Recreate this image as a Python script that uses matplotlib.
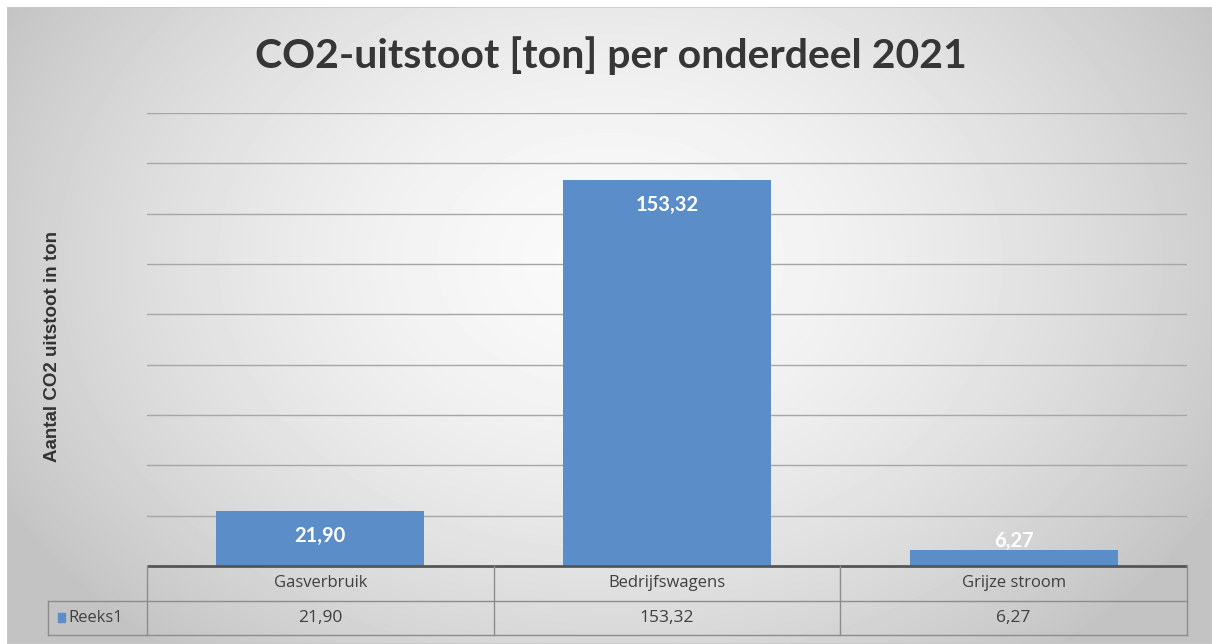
import numpy as np
import matplotlib.pyplot as plt
from matplotlib.patches import Rectangle

# data
categories = ["Gasverbruik", "Bedrijfswagens", "Grijze stroom"]
values = [21.90, 153.32, 6.27]
value_labels = ["21,90", "153,32", "6,27"]
series_name = "Reeks1"
title = "CO2-uitstoot [ton] per onderdeel 2021"
ylabel = "Aantal CO2 uitstoot in ton"

W, H = 1212, 644
bar_color = "#5b8dc9"
text_color = "#404040"
line_color = "#8c8c8c"

fig = plt.figure(figsize=(W / 100, H / 100), dpi=100)
fig.patch.set_facecolor("white")


def fx(px):
    return px / W


def fy(py):
    return 1 - py / H


# achtergrond met radiale gradient (Excel stijl)
bg = fig.add_axes([fx(7), 0, fx(W - 7), fy(7)])
yy, xx = np.mgrid[7:H, 7:W]
r = np.sqrt(((xx - 610) / 640.0) ** 2 + ((yy - 260) / 470.0) ** 2)
gray = np.clip(250 - 48 * r ** 1.6, 195, 250) / 255.0
bg.imshow(gray, cmap="gray", vmin=0, vmax=1, aspect="auto",
          extent=[0, 1, 0, 1], interpolation="bilinear")
bg.set_axis_off()
bg.add_patch(Rectangle((0, 0), 1, 1, transform=bg.transAxes, fill=False,
                       edgecolor="#c8c8c8", lw=1.2))

# plot gebied
x_left, x_right = 147, 1187
y_top, y_base = 113, 566
ax = fig.add_axes([fx(x_left), fy(y_base), fx(x_right - x_left),
                   (y_base - y_top) / H])
ax.set_facecolor("none")
x = np.arange(len(categories))
ax.bar(x, values, width=0.6, color=bar_color, zorder=3)
ax.set_xlim(-0.5, len(categories) - 0.5)
ax.set_ylim(0, 180)
for gy in range(20, 181, 20):
    ax.axhline(gy, color="#a6a6a6", lw=1.0, zorder=1)
for s in ax.spines.values():
    s.set_visible(False)
ax.set_xticks([])
ax.set_yticks([])

# labels in de balken
for xi, v, lab in zip(x, values, value_labels):
    ax.annotate(lab, (xi, max(v, 20)), xytext=(0, -18),
                textcoords="offset points", ha="center", va="center",
                color="white", fontsize=14.5, fontweight="bold",
                family="Lato", zorder=4)

# titel en as-label
fig.text(fx(611), fy(56), title, ha="center", va="center",
         fontsize=29.5, fontweight="bold", family="Lato", color="#363636")
fig.text(fx(53), fy(346), ylabel, ha="center", va="center", rotation=90,
         fontsize=13.5, fontweight="bold", family="Liberation Sans",
         color="#333333")

# gegevenstabel onder de grafiek
cat_w = (x_right - x_left) / len(categories)
leg_left = 48
row1, row2, row3 = 566, 600, 635
tab = fig.add_axes([fx(leg_left), fy(row3), fx(x_right - leg_left),
                    (row3 - row1) / H])
tab.set_facecolor("none")
xmin_tab = -0.5 - (x_left - leg_left) / cat_w
tab.set_xlim(xmin_tab, len(categories) - 0.5)
tab.set_ylim(0, 2)
tab.set_axis_off()
tab.plot([-0.5, len(categories) - 0.5], [2, 2], color="#555555", lw=2.0,
         solid_capstyle="butt", clip_on=False)
tab.plot([xmin_tab, len(categories) - 0.5], [1, 1], color=line_color, lw=1.0)
tab.plot([xmin_tab, len(categories) - 0.5], [0, 0], color=line_color, lw=1.0,
         clip_on=False)
tab.plot([xmin_tab, xmin_tab], [0, 1], color=line_color, lw=1.0, clip_on=False)
for b in np.arange(len(categories) + 1) - 0.5:
    tab.plot([b, b], [0, 2], color=line_color, lw=1.0, clip_on=False)
for xi, cat, lab in zip(x, categories, value_labels):
    tab.text(xi, 1.5, cat, ha="center", va="center", fontsize=12,
             family="Open Sans", color=text_color)
    tab.text(xi, 0.5, lab, ha="center", va="center", fontsize=12.5,
             family="Open Sans", color=text_color)
key_x = xmin_tab + 0.03
tab.add_patch(Rectangle((key_x, 0.38), 0.018, 0.25, color=bar_color))
tab.text(key_x + 0.028, 0.5, series_name, ha="left", va="center",
         fontsize=12, family="Open Sans", color=text_color)

fig.savefig("out.png", dpi=100)
